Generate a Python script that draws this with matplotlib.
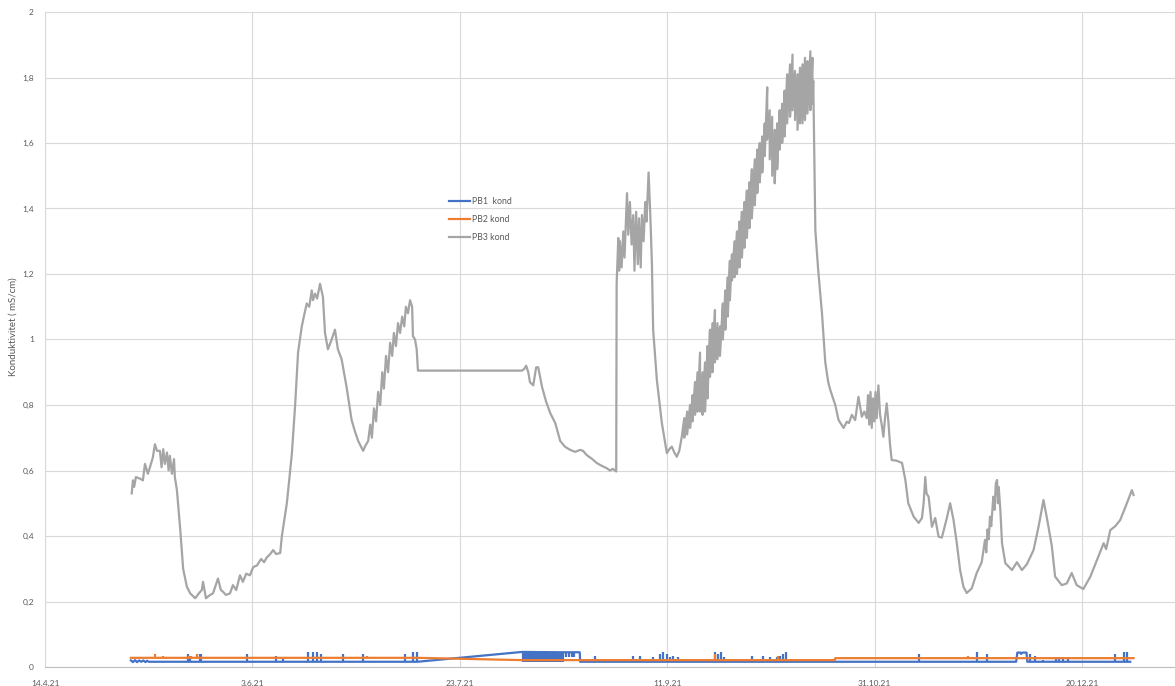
import numpy as np
import pandas as pd
import matplotlib
matplotlib.use("Agg")
import matplotlib.pyplot as plt
import matplotlib.dates as mdates
from matplotlib.ticker import FixedLocator, FuncFormatter, MultipleLocator

plt.rcParams["font.family"] = ["Lato", "DejaVu Sans"]

START = pd.Timestamp("2021-04-14")

# ---- PB3 conductivity (mS/cm), (days since 14.4.21, value) ----
pb3_part1 = [
    (20.9, 0.53), (21.2, 0.57), (21.5, 0.55), (21.9, 0.58), (22.9, 0.575), (23.6, 0.57),
    (24.1, 0.62), (24.8, 0.59), (25.3, 0.61), (26.0, 0.64), (26.5, 0.68), (27.0, 0.66),
    (27.7, 0.66), (28.1, 0.61), (28.5, 0.665), (28.9, 0.62), (29.4, 0.655), (29.8, 0.60),
    (30.1, 0.645), (30.6, 0.59), (31.1, 0.635), (31.3, 0.58), (31.8, 0.54), (32.6, 0.42),
    (33.3, 0.30), (34.2, 0.245), (35.0, 0.225), (36.2, 0.21), (37.1, 0.225), (37.8, 0.235),
    (38.1, 0.26), (38.8, 0.21), (39.8, 0.22), (40.5, 0.225), (41.7, 0.27), (42.4, 0.235),
    (42.9, 0.23), (43.6, 0.22), (44.6, 0.225), (45.3, 0.25), (46.1, 0.235), (47.0, 0.28),
    (47.7, 0.26), (48.5, 0.285), (49.4, 0.28), (50.2, 0.305), (51.1, 0.31), (52.1, 0.33),
    (52.8, 0.32), (53.5, 0.335), (54.3, 0.345), (55.0, 0.357), (55.7, 0.345), (56.7, 0.348),
    (57.1, 0.40), (58.3, 0.50), (59.5, 0.65), (60.3, 0.80), (61.0, 0.96), (61.9, 1.04),
    (62.4, 1.07), (63.1, 1.11), (63.7, 1.10), (64.3, 1.15), (64.6, 1.12), (65.1, 1.14),
    (65.6, 1.125), (66.3, 1.17), (67.0, 1.13), (67.5, 1.02), (68.2, 0.97), (69.1, 1.00),
    (69.9, 1.03), (70.6, 0.97), (71.5, 0.94), (72.7, 0.855), (73.9, 0.755), (74.7, 0.72),
    (75.5, 0.69), (76.7, 0.66), (77.2, 0.675), (77.9, 0.69), (78.4, 0.74), (78.8, 0.70),
    (79.3, 0.79), (79.8, 0.75), (80.3, 0.84), (80.8, 0.80), (81.3, 0.90), (81.7, 0.85),
    (82.2, 0.95), (82.7, 0.90), (83.2, 0.99), (83.7, 0.95), (84.1, 1.02), (84.6, 0.98),
    (85.1, 1.05), (85.6, 1.02), (86.1, 1.07), (86.6, 1.04), (87.0, 1.10), (87.5, 1.08),
    (88.0, 1.12), (88.5, 1.10), (88.7, 1.01), (89.2, 1.00), (89.6, 0.97), (89.9, 0.905),
    (115.0, 0.905), (115.5, 0.91), (116.0, 0.92), (116.5, 0.90), (116.9, 0.87), (117.7, 0.86),
    (118.4, 0.915), (118.9, 0.915), (119.8, 0.856), (120.8, 0.81), (121.8, 0.775), (123.0, 0.745),
    (124.2, 0.69), (125.4, 0.672), (126.6, 0.663), (127.8, 0.657), (129.0, 0.663), (129.7, 0.66),
    (130.6, 0.647), (131.9, 0.635), (133.0, 0.623), (134.1, 0.615), (135.4, 0.607), (136.2, 0.60),
    (136.9, 0.605), (137.7, 0.597), (137.8, 1.17), (138.2, 1.31), (138.4, 1.21), (138.6, 1.30),
    (139.0, 1.22), (139.4, 1.33), (139.7, 1.25), (140.3, 1.447), (140.6, 1.32), (141.0, 1.42),
    (141.4, 1.29), (141.8, 1.38), (142.1, 1.21), (142.5, 1.39), (142.9, 1.23), (143.2, 1.37),
    (143.6, 1.22), (143.9, 1.38), (144.3, 1.30), (144.7, 1.42), (145.0, 1.36), (145.5, 1.51),
    (145.9, 1.386), (146.3, 1.233), (146.6, 1.03), (147.5, 0.876), (148.7, 0.745), (149.9, 0.653),
    (150.5, 0.665), (151.1, 0.673), (151.7, 0.655), (152.3, 0.642), (152.9, 0.66), (153.5, 0.703),
]

# rising period with strong daily swings: day, daily high, daily low
pb3_swing_days = [
    154.1, 154.8, 155.5, 156.1, 156.7, 157.3, 157.9, 158.5, 159.1, 159.7,
    160.3, 160.9, 161.5, 162.1, 162.7, 163.4, 164.0, 164.6, 165.1, 165.6,
    166.2, 166.8, 167.4, 168.0, 168.6, 169.2, 169.8, 170.4, 171.1, 171.7,
    172.3, 172.9, 173.5, 174.1, 174.7, 175.3, 175.9, 176.5, 177.1, 177.7,
    178.3, 178.9, 179.6, 180.2, 180.8, 181.4, 182.0, 182.6, 183.2, 183.8,
    184.5, 185.0,
]
pb3_swing_high = [
    0.76, 0.78, 0.80, 0.83, 0.87, 0.90, 0.96, 0.90, 0.93, 0.98,
    1.03, 1.05, 1.09, 1.05, 1.04, 1.11, 1.15, 1.19, 1.24, 1.26,
    1.30, 1.33, 1.36, 1.39, 1.42, 1.455, 1.48, 1.52, 1.55, 1.58,
    1.60, 1.62, 1.66, 1.77, 1.70, 1.68, 1.64, 1.66, 1.70, 1.72,
    1.76, 1.81, 1.84, 1.87, 1.82, 1.81, 1.83, 1.84, 1.86, 1.85,
    1.88, 1.86,
]
pb3_swing_low = [
    0.70, 0.71, 0.73, 0.75, 0.77, 0.78, 0.78, 0.77, 0.78, 0.82,
    0.886, 0.90, 0.93, 0.94, 0.95, 1.00, 1.03, 1.07, 1.12, 1.18,
    1.19, 1.20, 1.22, 1.25, 1.28, 1.31, 1.34, 1.37, 1.41, 1.447,
    1.48, 1.51, 1.56, 1.61, 1.55, 1.50, 1.477, 1.52, 1.58, 1.60,
    1.62, 1.66, 1.68, 1.70, 1.67, 1.64, 1.66, 1.66, 1.67, 1.69,
    1.70, 1.72,
]

pb3_part2 = [
    (185.2, 1.79), (185.7, 1.334), (186.4, 1.21), (187.3, 1.08), (188.1, 0.93), (188.8, 0.87),
    (189.3, 0.846), (190.5, 0.80), (191.3, 0.754), (192.5, 0.73), (193.3, 0.749), (193.8, 0.745),
    (194.5, 0.77), (195.3, 0.754), (196.1, 0.825), (196.9, 0.764), (197.5, 0.78), (198.1, 0.76),
    (198.4, 0.83), (198.7, 0.74), (199.0, 0.84), (199.3, 0.73), (199.6, 0.82), (199.9, 0.75),
    (200.2, 0.84), (200.5, 0.76), (200.9, 0.86), (201.3, 0.77), (201.7, 0.74), (202.1, 0.703),
    (202.5, 0.76), (202.9, 0.805), (203.3, 0.75), (203.7, 0.68), (204.1, 0.632), (205.3, 0.63),
    (206.6, 0.623), (207.4, 0.571), (208.1, 0.50), (209.4, 0.459), (210.6, 0.44), (211.4, 0.455),
    (211.8, 0.50), (212.2, 0.58), (212.5, 0.53), (213.0, 0.52), (213.8, 0.428), (214.6, 0.455),
    (215.4, 0.398), (216.2, 0.395), (217.4, 0.455), (218.2, 0.50), (219.0, 0.45), (219.8, 0.378),
    (220.6, 0.296), (221.4, 0.245), (222.2, 0.226), (223.4, 0.24), (224.6, 0.287), (225.8, 0.32),
    (226.6, 0.388), (226.9, 0.35), (227.2, 0.42), (227.5, 0.39), (227.8, 0.459), (228.1, 0.43),
    (228.6, 0.52), (228.9, 0.48), (229.2, 0.56), (229.5, 0.571), (229.7, 0.50), (229.9, 0.55),
    (230.3, 0.479), (230.7, 0.378), (231.5, 0.317), (233.1, 0.296), (234.3, 0.32), (235.5, 0.296),
    (236.7, 0.314), (238.3, 0.357), (239.5, 0.428), (240.7, 0.51), (241.3, 0.47), (241.9, 0.428),
    (242.7, 0.37), (243.5, 0.276), (245.1, 0.25), (246.3, 0.255), (247.5, 0.287), (248.7, 0.25),
    (250.3, 0.238), (252.0, 0.276), (253.6, 0.327), (255.2, 0.378), (255.8, 0.36), (256.8, 0.418),
    (258.0, 0.43), (259.2, 0.449), (260.8, 0.50), (262.0, 0.54), (262.4, 0.525),
]

# ---- PB1 conductivity ----
pb1_line = [
    (20.7, 0.02), (21.2, 0.015), (21.7, 0.021), (22.2, 0.015), (22.7, 0.02), (23.2, 0.016),
    (23.7, 0.02), (24.2, 0.015), (24.6, 0.019), (25.0, 0.016), (89.8, 0.016), (115.0, 0.046),
    (125.0, 0.045), (128.9, 0.045), (129.0, 0.016), (234.1, 0.016), (234.4, 0.044),
    (235.1, 0.044), (235.3, 0.04), (235.6, 0.044), (236.6, 0.044), (236.8, 0.016), (261.6, 0.016),
]
pb1_floor = 0.016
pb1_spike_days = [
    34.5, 35.0, 37.4, 37.7, 48.6, 55.7, 57.4, 63.4, 64.6, 65.6,
    66.5, 71.8, 76.6, 86.8, 88.7, 89.7, 132.6, 141.8, 143.5, 146.6,
    148.3, 149.0, 150.0, 150.7, 151.4, 152.6, 161.5, 162.3, 163.0, 163.7,
    170.5, 173.1, 174.1, 174.8, 176.5, 177.2, 177.9, 178.7, 183.7, 210.7,
    224.7, 227.1, 237.5, 238.7, 240.7, 243.7, 244.5, 245.5, 246.5, 258.0,
    260.0, 260.8,
]
pb1_spike_tops = [
    0.04, 0.03, 0.04, 0.04, 0.04, 0.035, 0.025, 0.046, 0.046, 0.046,
    0.04, 0.04, 0.04, 0.04, 0.045, 0.045, 0.035, 0.035, 0.035, 0.03,
    0.04, 0.045, 0.04, 0.03, 0.035, 0.03, 0.045, 0.04, 0.045, 0.03,
    0.035, 0.035, 0.025, 0.03, 0.03, 0.035, 0.04, 0.045, 0.02, 0.04,
    0.045, 0.04, 0.04, 0.035, 0.02, 0.03, 0.03, 0.03, 0.03, 0.04,
    0.045, 0.045,
]
# dense logging period in August
pb1_burst_days = [
    115.2, 115.6, 116.0, 116.4, 116.8, 117.2, 117.6, 118.0, 118.4, 118.8,
    119.2, 119.6, 120.0, 120.4, 120.8, 121.2, 121.6, 122.0, 122.4, 122.8,
    123.2, 123.6, 124.0, 124.4, 124.8, 125.6, 126.3, 127.0, 127.6,
]
pb1_burst_low = [
    0.015, 0.015, 0.015, 0.015, 0.015, 0.015, 0.015, 0.015, 0.015, 0.015,
    0.015, 0.015, 0.015, 0.015, 0.015, 0.015, 0.015, 0.015, 0.015, 0.015,
    0.015, 0.015, 0.015, 0.015, 0.015, 0.03, 0.03, 0.03, 0.03,
]
pb1_burst_top = 0.046

# ---- PB2 conductivity ----
pb2_line = [(20.7, 0.028), (89.7, 0.028), (115.0, 0.021), (190.4, 0.021), (190.5, 0.027), (262.4, 0.027)]
pb2_spike_days = [26.5, 28.5, 34.8, 35.3, 36.6, 77.6, 78.4, 161.5, 176.7, 222.5, 223.7]
pb2_spike_tops = [0.04, 0.033, 0.035, 0.035, 0.04, 0.035, 0.03, 0.04, 0.035, 0.035, 0.032]
pb2_spike_base = [0.028, 0.028, 0.028, 0.028, 0.028, 0.028, 0.028, 0.021, 0.021, 0.027, 0.027]

series_labels = ["PB1  kond", "PB2 kond", "PB3 kond"]
series_colors = ["#4472C4", "#ED7D31", "#A5A5A5"]
y_label = "Konduktivitet ( mS/cm)"
tick_step_days = 50


def to_dates(days):
    return START + pd.to_timedelta(np.asarray(days, dtype=float), unit="D")


def unzip(pairs):
    d, v = zip(*pairs)
    return list(d), list(v)


# assemble PB3 trace
d1, v1 = unzip(pb3_part1)
d2, v2 = unzip(pb3_part2)
sw_d = np.repeat(pb3_swing_days, 2)
sw_v = np.column_stack([pb3_swing_high, pb3_swing_low]).ravel()
pb3_days = np.concatenate([d1, sw_d, d2])
pb3_vals = np.concatenate([v1, sw_v, v2])

fig = plt.figure(figsize=(11.75, 6.86), dpi=100)
ax = fig.add_axes([45 / 1175, 19 / 686, 1130 / 1175, 655 / 686])

lw = 1.6
grid_c = "#D9D9D9"
text_c = "#595959"

# PB1
pd1, pv1 = unzip(pb1_line)
l1, = ax.plot(to_dates(pd1), pv1, color=series_colors[0], lw=lw, label=series_labels[0],
              solid_joinstyle="round", zorder=3)
ax.vlines(to_dates(pb1_spike_days), pb1_floor, pb1_spike_tops, color=series_colors[0], lw=lw, zorder=3)
ax.vlines(to_dates(pb1_burst_days), pb1_burst_low, pb1_burst_top, color=series_colors[0], lw=lw, zorder=3)

# PB2
pd2, pv2 = unzip(pb2_line)
l2, = ax.plot(to_dates(pd2), pv2, color=series_colors[1], lw=lw, label=series_labels[1], zorder=4)
ax.vlines(to_dates(pb2_spike_days), pb2_spike_base, pb2_spike_tops, color=series_colors[1], lw=lw, zorder=4)

# PB3
l3, = ax.plot(to_dates(pb3_days), pb3_vals, color=series_colors[2], lw=lw, label=series_labels[2],
              solid_joinstyle="round", zorder=5)

# axes
x0 = mdates.date2num(START)
ax.set_xlim(x0, x0 + 272.4)
ax.set_ylim(0, 2)
ax.xaxis.set_major_locator(FixedLocator([x0 + k * tick_step_days for k in range(6)]))


def date_fmt(x, pos):
    d = mdates.num2date(x)
    return f"{d.day}.{d.month}.{d.strftime('%y')}"


def num_fmt(y, pos):
    s = f"{y:.1f}".rstrip("0").rstrip(".")
    return s.replace(".", ",")


ax.xaxis.set_major_formatter(FuncFormatter(date_fmt))
ax.yaxis.set_major_locator(MultipleLocator(0.2))
ax.yaxis.set_major_formatter(FuncFormatter(num_fmt))
ax.grid(True, color=grid_c, lw=0.8)
ax.set_axisbelow(True)
for s in ["top", "right"]:
    ax.spines[s].set_visible(False)
ax.spines["left"].set_color(grid_c)
ax.spines["bottom"].set_color("#BFBFBF")
ax.spines["left"].set_linewidth(0.8)
ax.spines["bottom"].set_linewidth(0.8)
ax.tick_params(axis="both", length=0, colors=text_c, labelsize=6)
ax.tick_params(axis="y", pad=8)
ax.tick_params(axis="x", pad=9)

fig.text(13 / 1175, 1 - 327 / 686, y_label, rotation=90, ha="center", va="center",
         fontsize=7, color=text_c)

leg = fig.legend(handles=[l1, l2, l3], loc="upper left",
                 bbox_to_anchor=(449 / 1175, 1 - 196.7 / 686), frameon=False,
                 fontsize=6.3, handlelength=2.4, handletextpad=0.25, labelspacing=1.07,
                 borderpad=0, borderaxespad=0)
for t in leg.get_texts():
    t.set_color(text_c)

fig.savefig("out.png", dpi=100)
